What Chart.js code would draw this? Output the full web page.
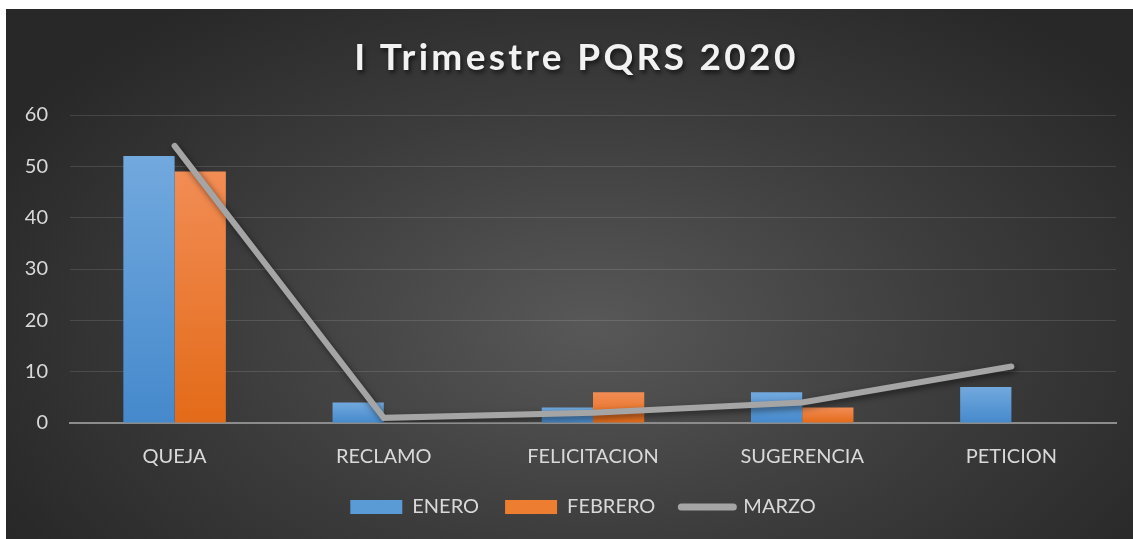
<!DOCTYPE html>
<html>
<head>
<meta charset="utf-8">
<script src="https://cdn.jsdelivr.net/npm/chart.js@4"></script>
<style>
    html, body { margin: 0; padding: 0; background: #ffffff; }
    #wrap {
        position: absolute;
        left: 6px; top: 9px;
        width: 1127px; height: 530px;
        background: radial-gradient(ellipse 60% 75% at 52% 60%, #585858 0%, #3c3c3c 55%, #282828 100%);
    }
    #title {
        position: absolute;
        left: 0; right: 0; top: 24px;
        padding-left: 14px;
        text-align: center;
        font-family: Lato, sans-serif;
        font-weight: bold;
        font-size: 37px;
        letter-spacing: 3.3px;
        color: #f2f2f2;
        text-shadow: 2px 3px 4px rgba(0, 0, 0, 0.6);
    }
    canvas { position: absolute; left: 0; top: 0; }
</style>
</head>
<body>
<div id="wrap">
    <canvas id="chart" width="1127" height="530"></canvas>
    <div id="title">I Trimestre PQRS 2020</div>
</div>
<script>
const categories = ["QUEJA", "RECLAMO", "FELICITACION", "SUGERENCIA", "PETICION"];
const enero = [52, 4, 3, 6, 7];
const febrero = [49, 0, 6, 3, 0];
const marzo = [54, 1, 2, 4, 11];
const yTicks = [0, 10, 20, 30, 40, 50, 60];

Chart.defaults.font.family = "Lato, sans-serif";
Chart.defaults.color = "#d9d9d9";

// Vertical gradient per bar, from its top down to zero
const barGradient = (topColor, bottomColor) => (context) => {
    const chart = context.chart;
    if (!chart.chartArea || context.dataIndex === undefined) return bottomColor;
    const y = chart.scales.y;
    const value = context.dataset.data[context.dataIndex];
    const top = y.getPixelForValue(value);
    const bottom = y.getPixelForValue(0);
    if (bottom - top < 1) return bottomColor;
    const g = chart.ctx.createLinearGradient(0, top, 0, bottom);
    g.addColorStop(0, topColor);
    g.addColorStop(1, bottomColor);
    return g;
};

// Soft shadow under the line
const lineShadow = {
    id: "lineShadow",
    beforeDatasetDraw(chart, args) {
        if (args.meta.type !== "line") return;
        const ctx = chart.ctx;
        ctx.save();
        ctx.shadowColor = "rgba(0, 0, 0, 0.5)";
        ctx.shadowBlur = 6;
        ctx.shadowOffsetX = 2;
        ctx.shadowOffsetY = 3;
    },
    afterDatasetDraw(chart, args) {
        if (args.meta.type !== "line") return;
        chart.ctx.restore();
    }
};

// Legend sits a bit right of the canvas centre
const legendShift = {
    id: "legendShift",
    afterLayout(chart) {
        chart.legend.left += 22;
        chart.legend.right += 22;
    }
};

new Chart(document.getElementById("chart"), {
    data: {
        labels: categories,
        datasets: [
            {
                type: "bar",
                label: "ENERO",
                data: enero,
                order: 1,
                backgroundColor: barGradient("#72a9de", "#4589cc"),
                categoryPercentage: 0.49,
                barPercentage: 1.0
            },
            {
                type: "bar",
                label: "FEBRERO",
                data: febrero,
                order: 1,
                backgroundColor: barGradient("#f28d55", "#e36a18"),
                categoryPercentage: 0.49,
                barPercentage: 1.0
            },
            {
                type: "line",
                label: "MARZO",
                data: marzo,
                order: 0,
                borderColor: "#a5a5a5",
                backgroundColor: "#a5a5a5",
                borderWidth: 6,
                borderCapStyle: "round",
                pointRadius: 0,
                tension: 0
            }
        ]
    },
    options: {
        responsive: false,
        animation: false,
        layout: {
            padding: { top: 106, right: 17, bottom: 12, left: 0 }
        },
        plugins: {
            title: { display: false },
            tooltip: { enabled: false },
            legend: {
                position: "bottom",
                labels: {
                    usePointStyle: true,
                    pointStyleWidth: 52,
                    boxHeight: 14,
                    padding: 26,
                    color: "#d9d9d9",
                    font: { size: 20 },
                    sort: (a, b) => a.datasetIndex - b.datasetIndex,
                    generateLabels: (chart) => {
                        const items = Chart.defaults.plugins.legend.labels.generateLabels(chart);
                        items.forEach(item => {
                            if (item.datasetIndex === 0) {
                                item.pointStyle = "rect";
                                item.fillStyle = "#5b9bd5";
                                item.strokeStyle = "#5b9bd5";
                                item.lineWidth = 0;
                            } else if (item.datasetIndex === 1) {
                                item.pointStyle = "rect";
                                item.fillStyle = "#ed7d31";
                                item.strokeStyle = "#ed7d31";
                                item.lineWidth = 0;
                            } else {
                                item.pointStyle = "line";
                                item.strokeStyle = "#a5a5a5";
                                item.lineWidth = 7;
                                item.lineCap = "round";
                            }
                        });
                        return items;
                    }
                }
            }
        },
        scales: {
            x: {
                afterFit: (scale) => { scale.height -= 20; },
                grid: { display: false, drawTicks: false },
                border: { display: true, color: "#8c8c8c", width: 2 },
                ticks: { padding: 22, color: "#d9d9d9", font: { size: 20 } }
            },
            y: {
                min: 0,
                max: 60,
                afterFit: (scale) => { scale.width = 64; },
                afterBuildTicks: (scale) => { scale.ticks = yTicks.map(v => ({ value: v })); },
                grid: {
                    drawTicks: false,
                    color: (ctx) => ctx.tick && ctx.tick.value === 0 ? "rgba(0,0,0,0)" : "rgba(255, 255, 255, 0.12)",
                    lineWidth: 1
                },
                border: { display: false },
                ticks: { padding: 22, color: "#d9d9d9", font: { size: 20 } }
            }
        }
    },
    plugins: [lineShadow, legendShift]
});
</script>
</body>
</html>
